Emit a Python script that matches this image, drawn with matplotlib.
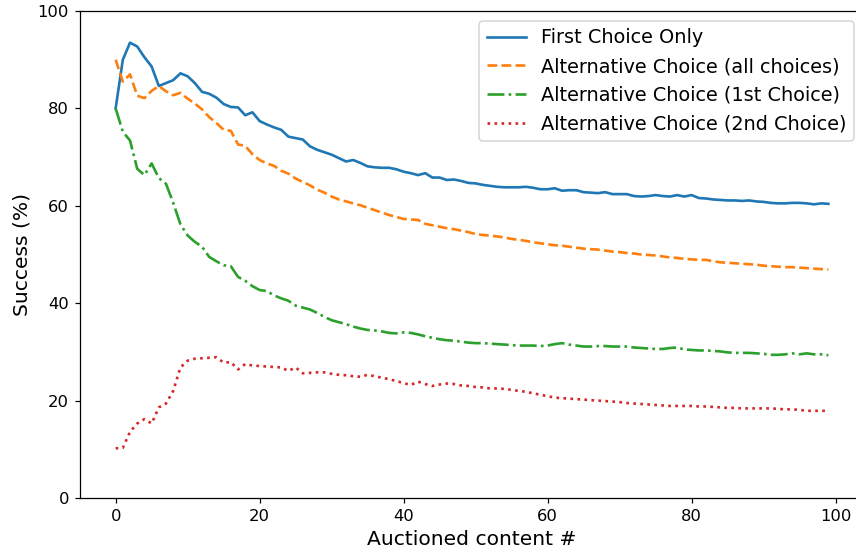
import numpy as np
import matplotlib
matplotlib.use("Agg")
import matplotlib.pyplot as plt

# success rate (%) per auctioned content, 100 rounds
first_choice = [
    80.0, 90.0, 93.5, 92.7, 90.5, 88.6, 84.6, 85.2, 85.8, 87.2,
    86.6, 85.2, 83.4, 83.0, 82.2, 80.9, 80.3, 80.2, 78.6, 79.2,
    77.4, 76.7, 76.1, 75.6, 74.2, 73.9, 73.6, 72.2, 71.5, 71.0,
    70.5, 69.8, 69.1, 69.4, 68.8, 68.1, 67.9, 67.8, 67.8, 67.5,
    67.0, 66.7, 66.3, 66.7, 65.8, 65.8, 65.3, 65.4, 65.1, 64.7,
    64.6, 64.3, 64.1, 63.9, 63.8, 63.8, 63.8, 63.9, 63.7, 63.4,
    63.4, 63.6, 63.1, 63.2, 63.2, 62.8, 62.7, 62.6, 62.8, 62.4,
    62.4, 62.4, 62.0, 61.9, 62.0, 62.2, 62.0, 61.9, 62.2, 61.9,
    62.2, 61.6, 61.5, 61.3, 61.2, 61.1, 61.1, 61.0, 61.1, 60.9,
    60.8, 60.6, 60.5, 60.5, 60.6, 60.6, 60.5, 60.3, 60.5, 60.4,
]
alt_all = [
    90.0, 85.5, 87.0, 82.6, 82.1, 83.6, 84.6, 83.5, 82.7, 83.2,
    82.0, 81.0, 79.8, 78.2, 77.0, 75.6, 75.4, 72.6, 72.3, 70.6,
    69.4, 68.7, 68.2, 67.2, 66.6, 65.6, 64.9, 64.2, 63.3, 62.7,
    61.9, 61.3, 60.9, 60.5, 60.1, 59.6, 59.1, 58.6, 58.1, 57.7,
    57.3, 57.2, 57.1, 56.3, 56.0, 55.7, 55.4, 55.2, 54.9, 54.6,
    54.2, 54.0, 53.9, 53.7, 53.5, 53.2, 53.0, 52.8, 52.5, 52.3,
    52.1, 51.9, 51.8, 51.6, 51.4, 51.2, 51.1, 51.0, 50.8, 50.6,
    50.5, 50.3, 50.2, 50.0, 49.9, 49.8, 49.6, 49.4, 49.3, 49.1,
    49.0, 48.9, 48.9, 48.6, 48.4, 48.3, 48.2, 48.1, 48.0, 47.9,
    47.7, 47.6, 47.5, 47.4, 47.4, 47.3, 47.2, 47.1, 47.0, 46.9,
]
alt_1st = [
    80.0, 75.2, 73.4, 67.6, 66.3, 68.7, 65.7, 64.5, 60.6, 56.2,
    53.9, 52.6, 51.6, 49.5, 48.6, 47.8, 47.6, 45.4, 44.6, 43.5,
    42.7, 42.5, 41.6, 41.0, 40.5, 39.5, 39.1, 38.7, 38.0, 37.2,
    36.5, 36.1, 35.7, 35.2, 34.8, 34.5, 34.4, 34.2, 33.9, 33.8,
    34.0, 33.9, 33.6, 33.2, 32.9, 32.6, 32.4, 32.3, 32.1, 31.9,
    31.8, 31.8, 31.7, 31.6, 31.5, 31.4, 31.3, 31.3, 31.3, 31.2,
    31.3, 31.6, 31.8, 31.5, 31.3, 31.1, 31.1, 31.2, 31.2, 31.1,
    31.1, 31.1, 30.9, 30.8, 30.7, 30.6, 30.6, 30.8, 30.9, 30.5,
    30.4, 30.3, 30.3, 30.2, 30.1, 29.9, 29.8, 29.8, 29.8, 29.7,
    29.6, 29.4, 29.4, 29.5, 29.7, 29.5, 29.7, 29.5, 29.5, 29.3,
]
alt_2nd = [
    10.2, 10.3, 13.6, 15.3, 16.2, 15.3, 18.6, 19.4, 22.0, 26.8,
    28.2, 28.6, 28.7, 28.8, 28.9, 27.8, 27.9, 26.4, 27.5, 27.2,
    27.1, 27.0, 26.9, 26.8, 26.1, 26.8, 25.6, 25.7, 25.8, 25.8,
    25.5, 25.3, 25.2, 25.0, 24.9, 25.3, 25.0, 24.7, 24.4, 24.0,
    23.6, 23.2, 23.9, 23.4, 23.0, 23.3, 23.5, 23.4, 23.1, 23.0,
    22.8, 22.7, 22.5, 22.5, 22.4, 22.2, 22.0, 21.8, 21.5, 21.2,
    20.9, 20.6, 20.5, 20.4, 20.3, 20.2, 20.1, 20.0, 19.9, 19.8,
    19.7, 19.5, 19.4, 19.3, 19.2, 19.1, 19.0, 18.9, 18.9, 18.9,
    18.9, 18.8, 18.8, 18.7, 18.6, 18.5, 18.5, 18.4, 18.4, 18.4,
    18.4, 18.4, 18.3, 18.2, 18.2, 18.1, 17.9, 17.9, 17.9, 17.9,
]
x = np.arange(len(first_choice))

fig = plt.figure(figsize=(856 / 112, 557 / 112), dpi=112)
# axes run a little past the right edge of the canvas
ax = fig.add_axes([80 / 856, 59 / 557, 784 / 856, 487 / 557])

lw = 1.7
ax.plot(x, first_choice, '-', lw=lw, label='First Choice Only')
ax.plot(x, alt_all, '--', lw=lw, label='Alternative Choice (all choices)')
ax.plot(x, alt_1st, '-.', lw=lw, label='Alternative Choice (1st Choice)')
ax.plot(x, alt_2nd, ':', lw=lw, label='Alternative Choice (2nd Choice)')

ax.set_ylim(0, 100)
ax.spines['right'].set_visible(False)
ax.tick_params(labelsize=10.5)
ax.set_xlabel('Auctioned content #', fontsize=13)
ax.set_ylabel('Success (%)', fontsize=13)
ax.legend(loc='upper right', fontsize=12.4)

fig.savefig('out.png', dpi=112)
